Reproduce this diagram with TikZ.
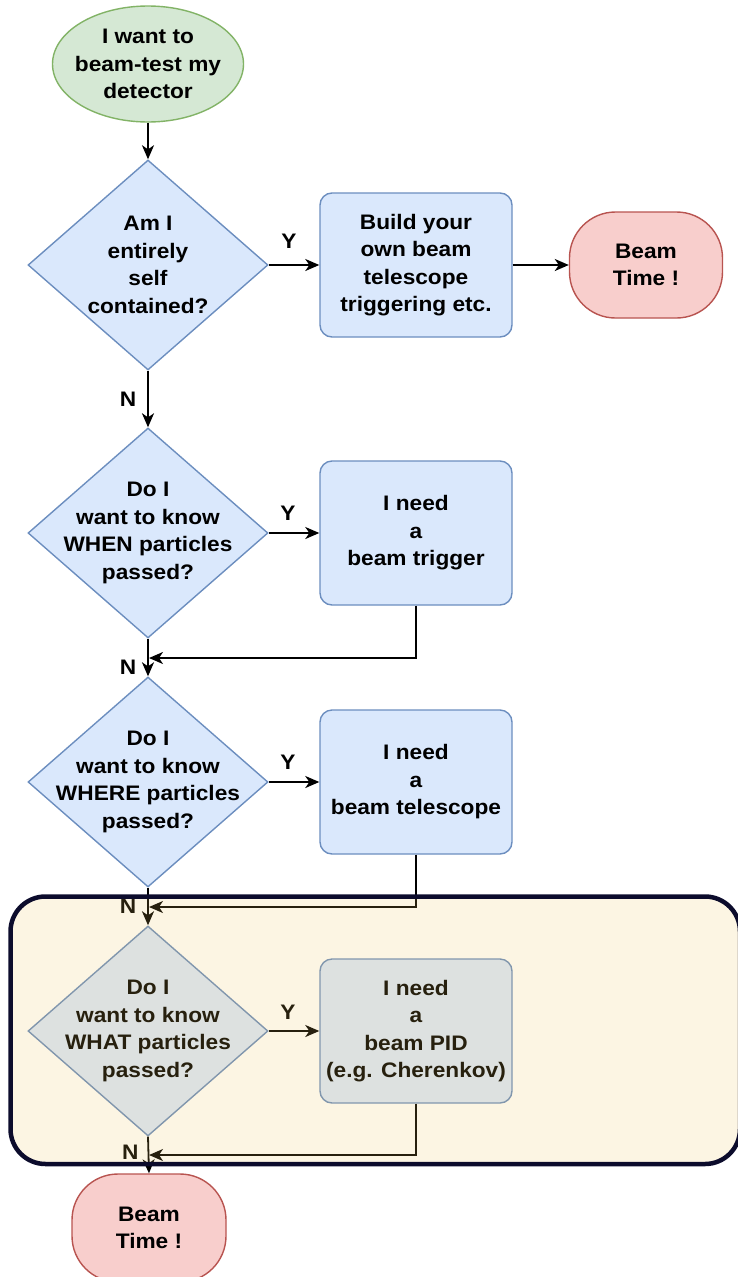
\documentclass[tikz,border=0pt]{standalone}
\usepackage{fontspec}
\setmainfont{Liberation Sans}[FakeStretch=1.08]
\usetikzlibrary{shapes.geometric,arrows.meta}
\definecolor{greenfill}{HTML}{D5E8D4}
\definecolor{greenline}{HTML}{82B366}
\definecolor{bluefill}{HTML}{DAE8FC}
\definecolor{blueline}{HTML}{6C8EBF}
\definecolor{redfill}{HTML}{F8CECC}
\definecolor{redline}{HTML}{B85450}
\definecolor{tint}{RGB}{236,194,88}
\definecolor{framecol}{HTML}{0C0C2C}
\begin{document}
\begin{tikzpicture}[x=1pt,y=-1pt,
  every node/.style={font=\bfseries\fontsize{21}{27.5}\selectfont, align=center},
  start/.style={ellipse, draw=greenline, fill=greenfill, line width=1.4pt,
    minimum width=191pt, minimum height=116pt, inner sep=0pt},
  decision/.style={diamond, draw=blueline, fill=bluefill, line width=1.4pt,
    minimum width=240pt, minimum height=210pt, inner sep=0pt},
  action/.style={rectangle, rounded corners=12pt, draw=blueline, fill=bluefill,
    line width=1.4pt, minimum width=192pt, minimum height=144pt, inner sep=0pt},
  finish/.style={rectangle, rounded corners=46pt, draw=redline, fill=redfill,
    line width=1.4pt, minimum width=153pt, minimum height=106pt, inner sep=0pt},
  flow/.style={-{Stealth[length=14pt,width=12pt,inset=4pt]}, line width=1.8pt},
  answer/.style={inner sep=0pt},
]
\useasboundingbox (0,0) rectangle (737,1277);

% start
\node[start, label={center:{I want to\\beam-test my\\detector}}] (start) at (148,64) {};

% question 1
\node[decision, label={center:{Am I\\entirely\\self\\contained?}}] (q1) at (148,265) {};
\node[action] (b1) at (416,265) {Build your\\own beam\\telescope\\triggering etc.};
\node[finish] (t1) at (646,265) {Beam\\Time !};

% question 2
\node[decision, label={center:{Do I\\want to know\\WHEN particles\\passed?}}] (q2) at (148,533) {};
\node[action] (b2) at (416,533) {I need\\a\\beam trigger};

% question 3
\node[decision, label={center:{Do I\\want to know\\WHERE particles\\passed?}}] (q3) at (148,782) {};
\node[action] (b3) at (416,782) {I need\\a\\beam telescope};

% question 4
\node[decision, label={center:{Do I\\want to know\\WHAT particles\\passed?}}] (q4) at (148,1031) {};
\node[action] (b4) at (416,1031) {I need\\a\\beam PID\\(e.g. Cherenkov)};

% end
\node[finish, minimum width=154pt, minimum height=108pt] (t2) at (149,1228) {Beam\\Time !};

% merge points on the main column
\coordinate (m2) at (149,658);
\coordinate (m3) at (149,907);
\coordinate (m4) at (149,1155);

% connectors
\draw[flow] (start) -- (q1);
\draw[flow] (q1.east) -- node[answer, pos=0.4, yshift=24pt] {Y} (b1.west);
\draw[flow] (b1.east) -- (t1.west);
\draw[flow] (q1.south) -- node[answer, pos=0.5, xshift=-20pt] {N} (q2.north);

\draw[flow] (q2.east) -- node[answer, pos=0.38, yshift=20pt] {Y} (b2.west);
\draw[flow] (b2.south) |- (m2);
\draw[flow] (q2.south) -- node[answer, pos=0.75, xshift=-20pt] {N} (q3.north);

\draw[flow] (q3.east) -- node[answer, pos=0.38, yshift=20pt] {Y} (b3.west);
\draw[flow] (b3.south) |- (m3);
\draw[flow] (q3.south) -- node[answer, pos=0.5, xshift=-20pt] {N} (q4.north);

\draw[flow] (q4.east) -- node[answer, pos=0.38, yshift=19pt] {Y} (b4.west);
\draw[flow] (b4.south) |- (m4);
\draw[flow] (q4.south) -- node[answer, pos=0.42, xshift=-18pt] {N} (t2.north);

% tinted group frame laid over the last question
\draw[draw=framecol, line width=4.5pt, fill=tint, fill opacity=0.17,
  rounded corners=35pt] (10.5,896.5) rectangle (740,1164);
\end{tikzpicture}
\end{document}
